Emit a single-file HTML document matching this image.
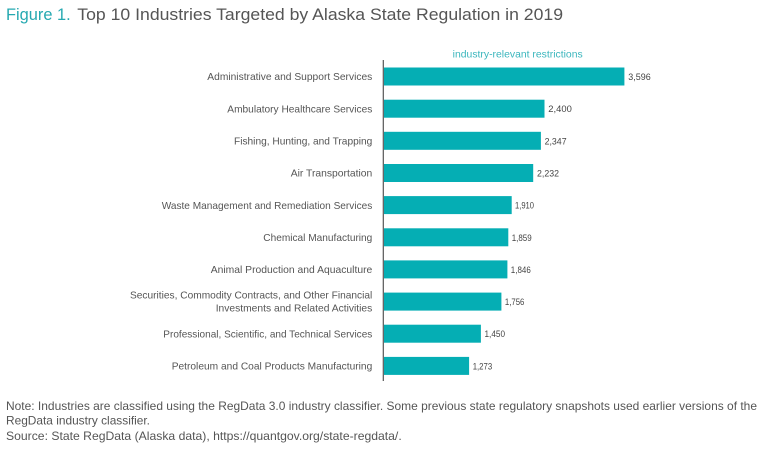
<!DOCTYPE html>
<html>
<head>
<meta charset="utf-8">
<style>
html,body{margin:0;padding:0;background:#fff;}
svg{display:block;}
text{font-family:"Liberation Sans",sans-serif;}
</style>
</head>
<body>
<svg width="768" height="452" viewBox="0 0 768 452" xmlns="http://www.w3.org/2000/svg">
<rect width="768" height="452" fill="#fff"/>
<!-- Title -->
<text x="6" y="20" font-size="16.5" fill="#26a9b1" textLength="64.7" lengthAdjust="spacingAndGlyphs">Figure 1.</text>
<text x="77.3" y="20" font-size="16.5" fill="#555" textLength="485.7" lengthAdjust="spacingAndGlyphs">Top 10 Industries Targeted by Alaska State Regulation in 2019</text>

<!-- axis title -->
<text x="452.7" y="57.5" font-size="10" fill="#3bb6bd" textLength="130" lengthAdjust="spacingAndGlyphs">industry-relevant restrictions</text>

<!-- bars -->
<g fill="#05aeb4">
<rect x="384" y="67.5" width="240.4" height="18"/>
<rect x="384" y="99.7" width="160.5" height="18"/>
<rect x="384" y="131.8" width="156.9" height="18"/>
<rect x="384" y="164" width="149.2" height="18"/>
<rect x="384" y="196.1" width="127.7" height="18"/>
<rect x="384" y="228.3" width="124.3" height="18"/>
<rect x="384" y="260.4" width="123.4" height="18"/>
<rect x="384" y="292.6" width="117.4" height="18"/>
<rect x="384" y="324.7" width="96.9" height="18"/>
<rect x="384" y="356.9" width="85.1" height="18"/>
</g>

<!-- axis line -->
<line x1="383.3" y1="60" x2="383.3" y2="381" stroke="#555" stroke-width="1.2"/>

<!-- category labels -->
<g font-size="10.5" fill="#555">
<text x="207.3" y="80.2" textLength="165" lengthAdjust="spacingAndGlyphs">Administrative and Support Services</text>
<text x="227.3" y="112.4" textLength="145" lengthAdjust="spacingAndGlyphs">Ambulatory Healthcare Services</text>
<text x="234" y="144.5" textLength="138.3" lengthAdjust="spacingAndGlyphs">Fishing, Hunting, and Trapping</text>
<text x="290.7" y="176.7" textLength="81.6" lengthAdjust="spacingAndGlyphs">Air Transportation</text>
<text x="161.7" y="208.8" textLength="210.6" lengthAdjust="spacingAndGlyphs">Waste Management and Remediation Services</text>
<text x="263.3" y="241" textLength="109" lengthAdjust="spacingAndGlyphs">Chemical Manufacturing</text>
<text x="210.7" y="273.1" textLength="161.6" lengthAdjust="spacingAndGlyphs">Animal Production and Aquaculture</text>
<text x="130" y="298.7" textLength="242.3" lengthAdjust="spacingAndGlyphs">Securities, Commodity Contracts, and Other Financial</text>
<text x="215.7" y="311.4" textLength="156.6" lengthAdjust="spacingAndGlyphs">Investments and Related Activities</text>
<text x="163.3" y="337.4" textLength="209" lengthAdjust="spacingAndGlyphs">Professional, Scientific, and Technical Services</text>
<text x="171.7" y="369.6" textLength="200.6" lengthAdjust="spacingAndGlyphs">Petroleum and Coal Products Manufacturing</text>
</g>

<!-- value labels -->
<g font-size="9.5" fill="#444">
<text x="628.3" y="80" textLength="22.4" lengthAdjust="spacingAndGlyphs">3,596</text>
<text x="548.3" y="112.2" textLength="23.5" lengthAdjust="spacingAndGlyphs">2,400</text>
<text x="544.6" y="144.3" textLength="22" lengthAdjust="spacingAndGlyphs">2,347</text>
<text x="537" y="176.5" textLength="22" lengthAdjust="spacingAndGlyphs">2,232</text>
<text x="515" y="208.6" textLength="19" lengthAdjust="spacingAndGlyphs">1,910</text>
<text x="511.7" y="240.8" textLength="20" lengthAdjust="spacingAndGlyphs">1,859</text>
<text x="510.8" y="272.9" textLength="20" lengthAdjust="spacingAndGlyphs">1,846</text>
<text x="504.9" y="305.1" textLength="19.5" lengthAdjust="spacingAndGlyphs">1,756</text>
<text x="484.5" y="337.2" textLength="20.5" lengthAdjust="spacingAndGlyphs">1,450</text>
<text x="472.7" y="369.4" textLength="19.5" lengthAdjust="spacingAndGlyphs">1,273</text>
</g>

<!-- notes -->
<g font-size="12" fill="#555">
<text x="6" y="410" textLength="751" lengthAdjust="spacingAndGlyphs">Note: Industries are classified using the RegData 3.0 industry classifier. Some previous state regulatory snapshots used earlier versions of the</text>
<text x="6" y="424.3" textLength="144" lengthAdjust="spacingAndGlyphs">RegData industry classifier.</text>
<text x="6" y="440" textLength="395.7" lengthAdjust="spacingAndGlyphs">Source: State RegData (Alaska data), https://quantgov.org/state-regdata/.</text>
</g>
</svg>
</body>
</html>
